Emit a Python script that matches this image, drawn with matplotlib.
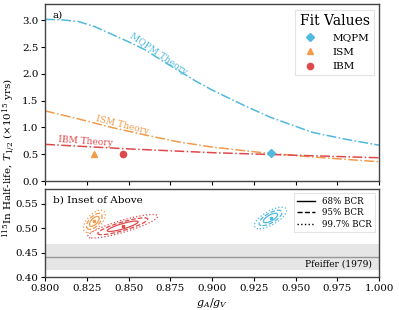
import numpy as np
import matplotlib
matplotlib.use("Agg")
import matplotlib.pyplot as plt
from matplotlib.lines import Line2D

plt.rcParams['font.family'] = 'serif'
plt.rcParams['font.serif'] = ['DejaVu Serif']
plt.rcParams['mathtext.fontset'] = 'dejavuserif'

c_mqpm = '#4fb9de'
c_ism = '#f19b4c'
c_ibm = '#dd4a4c'

# theory curves (g_A/g_V, half-life in 1e15 yrs)
g_mqpm = [0.80, 0.81, 0.82, 0.83, 0.84, 0.85, 0.86, 0.87, 0.88, 0.89, 0.90,
          0.92, 0.935, 0.96, 0.98, 1.00]
t_mqpm = [3.02, 3.01, 2.98, 2.88, 2.74, 2.60, 2.45, 2.25, 2.06, 1.87, 1.70,
          1.40, 1.19, 0.91, 0.78, 0.67]
g_ism = [0.80, 0.82, 0.84, 0.86, 0.88, 0.90, 0.93, 0.96, 1.00]
t_ism = [1.31, 1.16, 1.00, 0.86, 0.73, 0.635, 0.53, 0.45, 0.36]
g_ibm = [0.80, 0.85, 0.90, 0.93, 1.00]
t_ibm = [0.685, 0.60, 0.53, 0.50, 0.435]

# fit values: name, g, T, sigma_g, sigma_T, correlation
fit_names = ['MQPM', 'ISM', 'IBM']
fit_g = [0.935, 0.8295, 0.8465]
fit_t = [0.521, 0.514, 0.504]
fit_sg = [0.0028, 0.0019, 0.0061]
fit_st = [0.0064, 0.0067, 0.0070]
fit_rho = [0.70, 0.60, 0.85]
fit_colors = [c_mqpm, c_ism, c_ibm]
fit_markers = ['D', '^', 'o']

pfeiffer = 0.441
pfeiffer_err = 0.026

fig = plt.figure(figsize=(3.99, 3.10), dpi=100)
ax1 = fig.add_axes([0.113, 0.416, 0.837, 0.570])
ax2 = fig.add_axes([0.113, 0.106, 0.837, 0.284])

ax1.plot(g_mqpm, t_mqpm, '-.', color=c_mqpm, lw=1.1)
ax1.plot(g_ism, t_ism, '-.', color=c_ism, lw=1.1)
ax1.plot(g_ibm, t_ibm, '-.', color=c_ibm, lw=1.1)
ax1.text(0.868, 2.38, 'MQPM Theory', color=c_mqpm, fontsize=6.5,
         rotation=-34, ha='center', va='center')
ax1.text(0.846, 1.04, 'ISM Theory', color=c_ism, fontsize=6.5,
         rotation=-14, ha='center', va='center')
ax1.text(0.8245, 0.735, 'IBM Theory', color=c_ibm, fontsize=6.5,
         rotation=-4, ha='center', va='center')

for n, g, t, c, m in zip(fit_names, fit_g, fit_t, fit_colors, fit_markers):
    ax1.plot(g, t, m, color=c, ms=4.5, ls='none', label=n)

leg = ax1.legend(title='Fit Values', loc='upper right', fontsize=7.5,
                 title_fontsize=10, frameon=True, fancybox=False,
                 edgecolor='#dddddd', handletextpad=1.2, borderpad=0.4,
                 labelspacing=0.5)
leg.get_frame().set_linewidth(0.8)

ax1.text(0.022, 0.965, 'a)', transform=ax1.transAxes, fontsize=7.5,
         ha='left', va='top')
ax1.set_xlim(0.8, 1.0)
ax1.set_ylim(0, 3.3)
ax1.set_yticks([0.0, 0.5, 1.0, 1.5, 2.0, 2.5, 3.0])
ax1.set_xticks([0.8, 0.825, 0.85, 0.875, 0.9, 0.925, 0.95, 0.975, 1.0])
ax1.tick_params(labelbottom=False)

# inset panel with credible regions
ax2.axhspan(pfeiffer - pfeiffer_err, pfeiffer + pfeiffer_err,
            color='#e6e6e6', lw=0, zorder=0)
ax2.axhline(pfeiffer, color='#999999', lw=1.0, zorder=1)
ax2.text(0.996, 0.426, 'Pfeiffer (1979)', fontsize=6.5, ha='right',
         va='center')

chi2 = [2.30, 5.99, 11.83]  # 68%, 95%, 99.7%
gg, tt = np.meshgrid(np.linspace(0.8, 1.0, 600), np.linspace(0.40, 0.58, 400))
for g, t, sg, st, r, c in zip(fit_g, fit_t, fit_sg, fit_st, fit_rho, fit_colors):
    dx = (gg - g) / sg
    dy = (tt - t) / st
    q = (dx**2 - 2 * r * dx * dy + dy**2) / (1 - r**2)
    ax2.contour(gg, tt, q, levels=chi2, colors=c,
                linestyles=['-', '--', ':'], linewidths=0.9)
    ax2.plot(g, t, 's', color=c, ms=2)

bcr = [Line2D([], [], color='k', ls='-', lw=1.0),
       Line2D([], [], color='k', ls='--', lw=1.0),
       Line2D([], [], color='k', ls=':', lw=1.0)]
leg2 = ax2.legend(bcr, ['68% BCR', '95% BCR', '99.7% BCR'], loc='upper right',
                  fontsize=6.2, fancybox=False, edgecolor='#dddddd',
                  handlelength=2.0, labelspacing=0.3, borderpad=0.4)
leg2.get_frame().set_linewidth(0.8)
ax2.text(0.025, 0.93, 'b) Inset of Above', transform=ax2.transAxes,
         fontsize=7.5, ha='left', va='top')

ax2.set_xlim(0.8, 1.0)
ax2.set_ylim(0.40, 0.58)
ax2.set_yticks([0.40, 0.45, 0.50, 0.55])
ax2.set_xticks([0.8, 0.825, 0.85, 0.875, 0.9, 0.925, 0.95, 0.975, 1.0])
ax2.set_xticklabels(['0.800', '0.825', '0.850', '0.875', '0.900', '0.925',
                     '0.950', '0.975', '1.000'])
ax2.set_xlabel('$g_A/g_V$', fontsize=8, labelpad=2)

for ax in (ax1, ax2):
    ax.tick_params(labelsize=7.4, length=3, width=0.8, pad=1.8)
    for s in ax.spines.values():
        s.set_color('#444444')
        s.set_linewidth(1.0)

fig.text(0.023, 0.49, r'$^{115}$In Half-life, $T_{1/2}$ ($\times 10^{15}$ yrs)',
         rotation=90, ha='center', va='center', fontsize=7.5)

fig.savefig('out.png', dpi=100)
